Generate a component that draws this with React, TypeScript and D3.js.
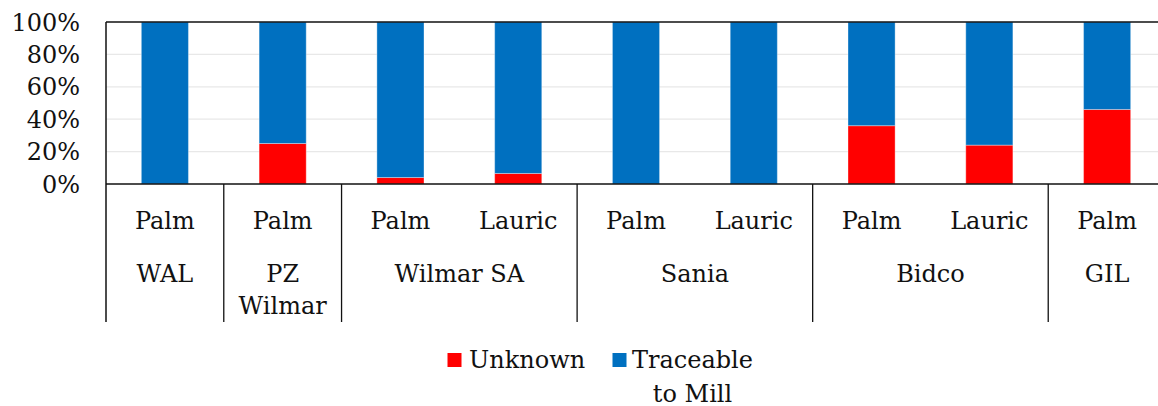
import React from "react";
import * as d3 from "d3";

const subLabels = ["Palm", "Palm", "Palm", "Lauric", "Palm", "Lauric", "Palm", "Lauric", "Palm"];
const groupNames = ["WAL", "PZ\nWilmar", "Wilmar SA", "Sania", "Bidco", "GIL"];
const groupSizes = [1, 1, 2, 2, 2, 1];
const unknownPct = [0, 25, 4, 6.5, 0, 0, 36, 24, 46];
const traceablePct = [100, 75, 96, 93.5, 100, 100, 64, 76, 54];
const yTicks = [0, 20, 40, 60, 80, 100];
const seriesNames = ["Unknown", "Traceable\nto Mill"];
const seriesColors = ["#FF0000", "#0070C0"];

const W = 1158;
const H = 406;
const left = 106;
const right = 1166;
const top = 22;
const bottom = 184;
const sepBottom = 322;
const FONT = "'DejaVu Serif', serif";
const FS = 24;

export default function App() {
  const idx = subLabels.map((_, i) => i);
  const x = d3.scaleBand<number>().domain(idx).range([left, right]).paddingInner(0.6).paddingOuter(0.3);
  const y = d3.scaleLinear().domain([0, 100]).range([bottom, top]);
  const step = x.step();
  const start0 = (x(0) as number) - (x.paddingOuter() * step);

  // group boundaries
  const boundaries: number[] = [];
  const groupCenters: number[] = [];
  let acc = 0;
  groupSizes.forEach((s) => {
    const a = start0 + acc * step;
    boundaries.push(a);
    groupCenters.push(a + (s * step) / 2);
    acc += s;
  });

  const stack = idx.map((i) => ({ u: unknownPct[i], t: traceablePct[i] }));

  return (
    <svg
      width={W}
      height={H}
      style={{ position: "absolute", left: 0, top: 0, background: "#fff" }}
      fontFamily={FONT}
      fontSize={FS}
    >
      {/* gridlines */}
      {yTicks.filter((t) => t > 0 && t < 100).map((t) => (
        <line key={t} x1={left} x2={W} y1={y(t)} y2={y(t)} stroke="#e8e8e8" strokeWidth={1.3} />
      ))}
      {/* bars */}
      {stack.map((d, i) => {
        const bx = x(i) as number;
        const bw = x.bandwidth();
        return (
          <g key={i}>
            {d.u > 0 && (
              <rect x={bx} y={y(d.u)} width={bw} height={y(0) - y(d.u)} fill={seriesColors[0]}
                stroke="#ffffff" strokeOpacity={0.35} strokeWidth={1} />
            )}
            <rect x={bx} y={y(d.u + d.t)} width={bw} height={y(d.u) - y(d.u + d.t)} fill={seriesColors[1]}
              stroke="#ffffff" strokeOpacity={0.35} strokeWidth={1} />
          </g>
        );
      })}
      {/* top border */}
      <line x1={left} x2={W} y1={y(100)} y2={y(100)} stroke="#111" strokeWidth={1.3} />
      {/* x axis line */}
      <line x1={left} x2={W} y1={y(0)} y2={y(0)} stroke="#111" strokeWidth={1.5} />
      {/* left axis */}
      <line x1={left} x2={left} y1={top} y2={sepBottom} stroke="#111" strokeWidth={1.5} />
      {/* group separators */}
      {boundaries.slice(1).map((b, i) => (
        <line key={i} x1={b} x2={b} y1={bottom} y2={sepBottom} stroke="#111" strokeWidth={1.3} />
      ))}
      {/* y tick labels */}
      {yTicks.map((t) => (
        <text key={t} x={80} y={y(t)} dy="0.36em" textAnchor="end" fill="#111">
          {t + "%"}
        </text>
      ))}
      {/* sub labels */}
      {subLabels.map((s, i) => (
        <text key={i} x={(x(i) as number) + x.bandwidth() / 2} y={229} textAnchor="middle" fill="#111">
          {s}
        </text>
      ))}
      {/* group labels */}
      {groupNames.map((g, i) => (
        <text key={i} x={groupCenters[i]} y={281.5} textAnchor="middle" fill="#111">
          {g.split("\n").map((line, j) => (
            <tspan key={j} x={groupCenters[i]} dy={j === 0 ? 0 : 32}>
              {line}
            </tspan>
          ))}
        </text>
      ))}
      {/* legend */}
      <rect x={447.5} y={353} width={14} height={14} fill={seriesColors[0]} />
      <text x={469} y={368} fill="#111">{seriesNames[0]}</text>
      <rect x={612.5} y={353} width={14} height={14} fill={seriesColors[1]} />
      <text x={692.5} y={368} textAnchor="middle" fill="#111">
        {seriesNames[1].split("\n").map((line, j) => (
          <tspan key={j} x={692.5} dy={j === 0 ? 0 : 33.5}>
            {line}
          </tspan>
        ))}
      </text>
    </svg>
  );
}
